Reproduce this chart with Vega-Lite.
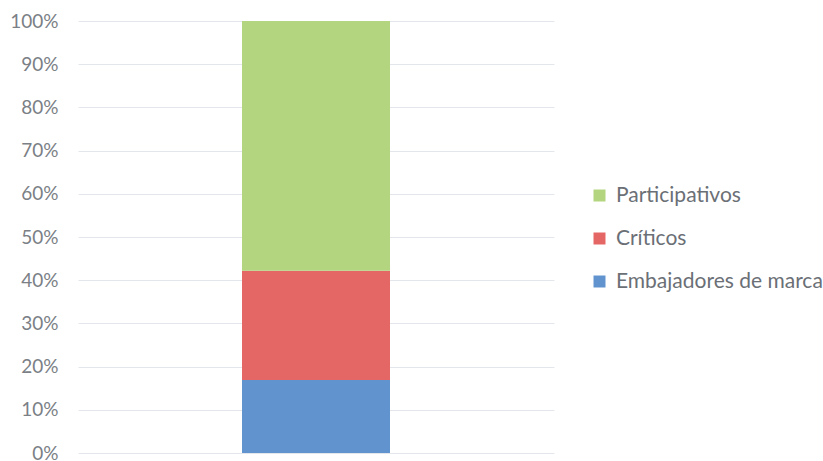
{
  "$schema": "https://vega.github.io/schema/vega-lite/v6.json",
  "width": 476,
  "height": 432,
  "autosize": "none",
  "padding": {"left": 78, "top": 21, "right": 269, "bottom": 8},
  "background": "white",
  "config": {
    "view": {"stroke": null},
    "font": "Lato"
  },
  "data": {
    "values": [
      {"cat": "A", "serie": "Embajadores de marca", "valor": 0.169, "orden": 1},
      {"cat": "A", "serie": "Críticos", "valor": 0.253, "orden": 2},
      {"cat": "A", "serie": "Participativos", "valor": 0.578, "orden": 3}
    ]
  },
  "mark": {"type": "bar", "size": 148},
  "encoding": {
    "x": {"field": "cat", "type": "nominal", "axis": null},
    "y": {
      "field": "valor",
      "type": "quantitative",
      "stack": "zero",
      "scale": {"domain": [0, 1]},
      "axis": {
        "format": ".0%",
        "values": [0, 0.1, 0.2, 0.3, 0.4, 0.5, 0.6, 0.7, 0.8, 0.9, 1],
        "domain": false,
        "ticks": false,
        "title": null,
        "labelFontSize": 19,
        "labelColor": "#7b7f86",
        "labelPadding": 20,
        "gridColor": "#e3e6ea",
        "gridWidth": 1
      }
    },
    "color": {
      "field": "serie",
      "type": "nominal",
      "scale": {
        "domain": ["Participativos", "Críticos", "Embajadores de marca"],
        "range": ["#b3d57f", "#e46765", "#6194ce"]
      },
      "legend": {
        "orient": "none",
        "legendX": 511,
        "legendY": 164,
        "title": null,
        "symbolType": "square",
        "symbolSize": 144,
        "symbolStrokeWidth": 0,
        "labelFontSize": 21,
        "labelColor": "#6b6f76",
        "labelOffset": 6,
        "labelLimit": 300,
        "rowPadding": 21
      }
    },
    "order": {"field": "orden", "type": "quantitative", "sort": "ascending"}
  }
}
